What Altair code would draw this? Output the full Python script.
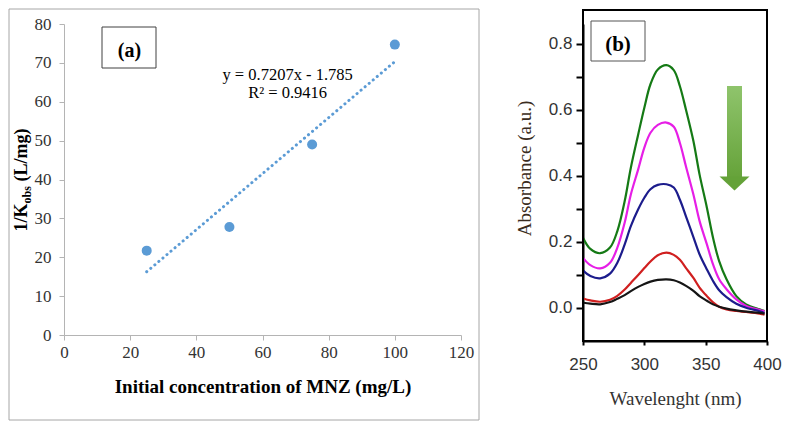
import altair as alt
import pandas as pd

# ---------------- Panel (a) data ----------------
conc = [25, 50, 75, 100]
inv_k = [21.7, 27.8, 49.0, 74.7]
eq_lines = ["y = 0.7207x - 1.785", "R² = 0.9416"]
eq_x = [67.6, 67.6]
eq_y = [65.5, 60.9]
a_xticks = [0, 20, 40, 60, 80, 100, 120]
a_yticks = [0, 10, 20, 30, 40, 50, 60, 70, 80]
y_title_parts = ["1/K", "obs", "(L/mg)"]
panel_labels = ["(a)", "(b)"]

# ---------------- Panel (b) data ----------------
wl = [250, 256, 264, 272, 278, 284, 289, 295, 300, 305, 311, 318, 324,
      329, 334, 340, 345, 351, 356, 361, 367, 375, 383, 394, 398]
green = [0.213, 0.179, 0.166, 0.183, 0.233, 0.324, 0.425, 0.526, 0.607, 0.678, 0.723, 0.736, 0.721,
         0.672, 0.600, 0.506, 0.405, 0.304, 0.213, 0.142, 0.087, 0.036, 0.011, -0.004, -0.009]
magenta = [0.152, 0.130, 0.120, 0.137, 0.183, 0.259, 0.344, 0.420, 0.486, 0.531, 0.555, 0.562, 0.549,
           0.500, 0.428, 0.344, 0.264, 0.193, 0.132, 0.087, 0.057, 0.026, 0.006, -0.006, -0.010]
blue = [0.114, 0.097, 0.090, 0.104, 0.137, 0.193, 0.248, 0.299, 0.334, 0.360, 0.373, 0.375, 0.365,
        0.328, 0.277, 0.215, 0.163, 0.117, 0.082, 0.054, 0.033, 0.013, 0.001, -0.010, -0.015]
red = [0.029, 0.023, 0.019, 0.025, 0.037, 0.056, 0.076, 0.100, 0.121, 0.141, 0.160, 0.168, 0.161,
       0.146, 0.121, 0.091, 0.062, 0.036, 0.017, 0.004, -0.004, -0.009, -0.012, -0.017, -0.020]
black = [0.016, 0.013, 0.011, 0.018, 0.028, 0.039, 0.051, 0.064, 0.073, 0.080, 0.085, 0.087, 0.084,
         0.077, 0.067, 0.052, 0.036, 0.022, 0.011, 0.004, -0.002, -0.007, -0.011, -0.015, -0.017]
series_names = ["green", "magenta", "blue", "red", "black"]
series_colors = ["#157a15", "#e61ee6", "#1c1c8c", "#d01f1f", "#151515"]
b_xticks = [250, 300, 350, 400]
b_yticks = [0.0, 0.1, 0.2, 0.3, 0.4, 0.5, 0.6, 0.7, 0.8]

SERIF = "Liberation Serif"
SANS = "Liberation Sans"

# ================= Panel (a) =================
PW_A, PH_A = 397, 311
df_a = pd.DataFrame({"conc": conc, "inv_k": inv_k})
df_eq = pd.DataFrame({"conc": eq_x, "inv_k": eq_y, "t": eq_lines})
one = pd.DataFrame({"k": [0]})

xa = alt.X("conc:Q", scale=alt.Scale(domain=[0, 120], nice=False),
           axis=alt.Axis(values=a_xticks, title="Initial concentration of MNZ (mg/L)",
                         grid=False, domainColor="#b4b4b4", tickColor="#b4b4b4", tickSize=5,
                         labelOverlap=False, labelFlush=False,
                         labelFont=SERIF, labelFontSize=17, labelColor="#333333", labelPadding=4,
                         titleFont=SERIF, titleFontSize=19, titleFontWeight="bold",
                         titleColor="black", titlePadding=17))
ya = alt.Y("inv_k:Q", scale=alt.Scale(domain=[0, 80], nice=False),
           axis=alt.Axis(values=a_yticks, title=None, grid=False, labelOverlap=False,
                         labelFlush=False,
                         domainColor="#b4b4b4", tickColor="#b4b4b4", tickSize=5,
                         labelFont=SERIF, labelFontSize=17, labelColor="#333333", labelPadding=8))

outer = alt.Chart(one).mark_rect(fill=None, stroke="#a6a6a6", strokeWidth=1).encode(
    x=alt.value(-55), x2=alt.value(415), y=alt.value(-15), y2=alt.value(396))

box_a = alt.Chart(one).mark_rect(fill="white", stroke="#404040", strokeWidth=1).encode(
    x=alt.value(38), x2=alt.value(92), y=alt.value(3), y2=alt.value(44))
lab_a = alt.Chart(one).mark_text(font=SERIF, fontSize=20, fontWeight="bold", color="black",
                                 baseline="middle").encode(
    x=alt.value(65.5), y=alt.value(26.5), text=alt.value(panel_labels[0]))

yt1 = alt.Chart(one).mark_text(font=SERIF, fontSize=18, fontWeight="bold", color="black",
                               angle=270, align="left", baseline="alphabetic").encode(
    x=alt.value(-37), y=alt.value(207.4), text=alt.value(y_title_parts[0]))
yt2 = alt.Chart(one).mark_text(font=SERIF, fontSize=12, fontWeight="bold", color="black",
                               angle=270, align="left", baseline="alphabetic").encode(
    x=alt.value(-33.5), y=alt.value(179.4), text=alt.value(y_title_parts[1]))
yt3 = alt.Chart(one).mark_text(font=SERIF, fontSize=18, fontWeight="bold", color="black",
                               angle=270, align="left", baseline="alphabetic").encode(
    x=alt.value(-37), y=alt.value(157.6), text=alt.value(y_title_parts[2]))

points = alt.Chart(df_a).mark_circle(size=100, color="#5b9bd5", opacity=1).encode(x=xa, y=ya)
trend = alt.Chart(df_a).transform_regression("conc", "inv_k").mark_line(
    color="#5b9bd5", strokeDash=[0.1, 5.2], strokeCap="round", strokeWidth=3).encode(
    x=xa, y=ya)
eq = alt.Chart(df_eq).mark_text(font=SERIF, fontSize=16.5, color="black",
                                baseline="alphabetic").encode(
    x=xa, y=ya, text="t:N")

panel_a = alt.layer(outer, points, trend, eq, box_a, lab_a, yt1, yt2, yt3).properties(
    width=PW_A, height=PH_A)

# ================= Panel (b) =================
PW_B, PH_B = 184, 317
rows = []
for name, vals in zip(series_names, [green, magenta, blue, red, black]):
    for w, v in zip(wl, vals):
        rows.append({"wl": w, "abs": v, "series": name})
df_b = pd.DataFrame(rows)

label_expr = ("(round(datum.value*10) % 2 == 0) ? format(datum.value, '.1f') : ''")
xb = alt.X("wl:Q", scale=alt.Scale(domain=[250, 400], nice=False),
           axis=alt.Axis(values=b_xticks, title="Wavelenght (nm)", grid=False,
                         labelOverlap=False, labelFlush=False,
                         domainColor="black", domainWidth=2, tickColor="black", tickWidth=2,
                         tickSize=4, labelFont=SANS, labelFontSize=17, labelColor="#333333",
                         labelPadding=11, titleFont=SERIF, titleFontSize=19,
                         titleFontWeight="normal", titleColor="#333333", titlePadding=17))
yb = alt.Y("abs:Q", scale=alt.Scale(domain=[-0.1, 0.8606], nice=False),
           axis=alt.Axis(values=b_yticks, labelExpr=label_expr, title="Absorbance (a.u.)",
                         labelOverlap=False, labelFlush=False,
                         grid=False, domainColor="black", domainWidth=2, tickColor="black",
                         tickWidth=2, tickSize=7, labelFont=SANS, labelFontSize=17,
                         labelColor="#333333", labelPadding=4, titleFont=SERIF,
                         titleFontSize=19, titleFontWeight="normal", titleColor="#3a2c20",
                         titlePadding=14, titleY=144))

frame_b = alt.Chart(one).mark_rect(fill=None, stroke="black", strokeWidth=2).encode(
    x=alt.value(0), x2=alt.value(PW_B), y=alt.value(-14), y2=alt.value(PH_B))

lines = alt.Chart(df_b).mark_line(strokeWidth=2.2, interpolate="catmull-rom", clip=True).encode(
    x=xb, y=yb,
    color=alt.Color("series:N", scale=alt.Scale(domain=series_names, range=series_colors),
                    legend=None))

box_b = alt.Chart(one).mark_rect(fill="white", stroke="#555555", strokeWidth=1).encode(
    x=alt.value(8), x2=alt.value(62), y=alt.value(-3), y2=alt.value(37))
lab_b = alt.Chart(one).mark_text(font=SERIF, fontSize=21, fontWeight="bold", color="black",
                                 baseline="middle").encode(
    x=alt.value(35), y=alt.value(20.5), text=alt.value(panel_labels[1]))

grad = alt.Gradient(gradient="linear", x1=0, x2=0, y1=0, y2=1,
                    stops=[alt.GradientStop(color="#8fc46c", offset=0),
                           alt.GradientStop(color="#66a33a", offset=1)])
shaft = alt.Chart(one).mark_rect(color=grad).encode(
    x=alt.value(144), x2=alt.value(159), y=alt.value(62), y2=alt.value(153))
head = alt.Chart(one).mark_point(shape="M-1,0L1,0L0,0.93Z", filled=True, opacity=1,
                                 color="#64a238", size=900, strokeWidth=0).encode(
    x=alt.value(151.5), y=alt.value(152.5))

panel_b = alt.layer(lines, frame_b, box_b, lab_b, shaft, head).properties(
    width=PW_B, height=PH_B)

chart = alt.hconcat(panel_a, panel_b, spacing=35).properties(padding=0).configure_view(
    stroke=None)

chart.save("out.html", embed_options={"renderer": "svg", "actions": False})
